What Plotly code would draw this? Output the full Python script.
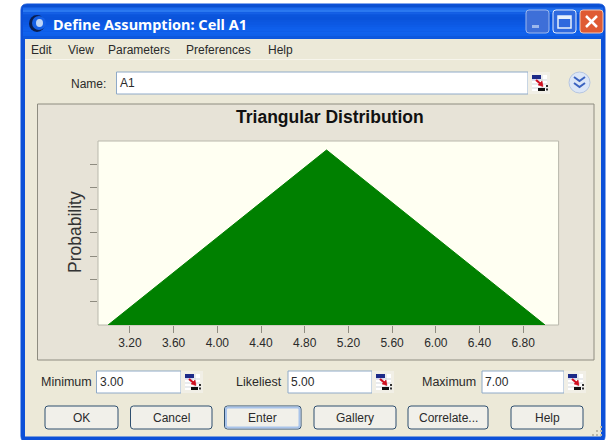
import plotly.graph_objects as go

W, H = 607, 440

# distribution
x_values = [3.0, 5.0, 7.0]
prob_values = [0.0, 0.5, 0.0]
x_ticks = [3.2, 3.6, 4.0, 4.4, 4.8, 5.2, 5.6, 6.0, 6.4, 6.8]
x_tick_labels = ["3.20", "3.60", "4.00", "4.40", "4.80", "5.20", "5.60", "6.00", "6.40", "6.80"]
prob_ticks = [0.066, 0.131, 0.197, 0.263, 0.329, 0.394, 0.46]

# dialog colours
WINDOW_BG = "#ECE9D8"
PANEL_BG = "#E7E3D7"
PLOT_BG = "#FFFFF2"
GREEN = "#008000"
TEXT = "#2A2A2A"
UI_FONT = "Liberation Sans"

# title bar bands, top to bottom
TITLE_BANDS = ["#0A4FD0", "#1C6AEC", "#2A78F0", "#1560E6", "#0B55DC", "#0A53DA", "#0B56DE",
               "#0C58E2", "#0D5BE6", "#0E5EEA", "#0F60EC", "#1062EE", "#0F60EA", "#0D58DE"]

shapes = []
texts = []


def px(x):
    return x / W


def py(y):
    return 1 - y / H


def rect(x0, y0, x1, y1, fill, line=None, width=1):
    shapes.append(dict(
        type="rect", xref="paper", yref="paper", layer="below",
        x0=px(x0), x1=px(x1), y0=py(y0), y1=py(y1),
        fillcolor=fill, line=dict(color=line or fill, width=width if line else 0),
    ))


def rounded(x0, y0, x1, y1, r, fill, line, width=1):
    path = (
        f"M {px(x0 + r)} {py(y0)} L {px(x1 - r)} {py(y0)} Q {px(x1)} {py(y0)} {px(x1)} {py(y0 + r)} "
        f"L {px(x1)} {py(y1 - r)} Q {px(x1)} {py(y1)} {px(x1 - r)} {py(y1)} "
        f"L {px(x0 + r)} {py(y1)} Q {px(x0)} {py(y1)} {px(x0)} {py(y1 - r)} "
        f"L {px(x0)} {py(y0 + r)} Q {px(x0)} {py(y0)} {px(x0 + r)} {py(y0)} Z"
    )
    shapes.append(dict(type="path", xref="paper", yref="paper", layer="below", path=path,
                       fillcolor=fill, line=dict(color=line, width=width)))


def stroke(points, color, width=1.5, fill=None):
    path = "M " + " L ".join(f"{px(a)} {py(b)}" for a, b in points)
    if fill:
        path += " Z"
    shapes.append(dict(type="path", xref="paper", yref="paper", layer="below", path=path,
                       fillcolor=fill or "rgba(0,0,0,0)", line=dict(color=color, width=width)))


def disc(x0, y0, x1, y1, fill, line=None, width=1):
    shapes.append(dict(type="circle", xref="paper", yref="paper", layer="below",
                       x0=px(x0), x1=px(x1), y0=py(y1), y1=py(y0),
                       fillcolor=fill, line=dict(color=line or fill, width=width if line else 0)))


def label(x, y, text, size=12, color=TEXT, anchor="left", bold=False, angle=0, font=UI_FONT):
    texts.append(dict(
        xref="paper", yref="paper", x=px(x), y=py(y), text=f"<b>{text}</b>" if bold else text,
        showarrow=False, xanchor=anchor, yanchor="middle", textangle=angle,
        font=dict(family=font, size=size, color=color),
    ))


def ref_icon(x, y):
    rect(x, y, x + 22, y + 22, "#F1EFE6")
    rect(x + 4, y + 3, x + 19, y + 19, "#FFFFFF")
    for gy in (y + 8, y + 12, y + 16):
        stroke([(x + 4, gy), (x + 19, gy)], "#BFC4CC", 0.7)
    stroke([(x + 14, y + 3), (x + 14, y + 19)], "#BFC4CC", 0.7)
    rect(x + 4, y + 3, x + 13, y + 7, "#1C2A88")
    rect(x + 4, y + 7, x + 12, y + 8.5, "#D8D8F0")
    stroke([(x + 8, y + 8), (x + 14, y + 13)], "#D01020", 2.2)
    stroke([(x + 10, y + 13), (x + 15, y + 14.5), (x + 14, y + 9)], "#D01020", 0.5, fill="#D01020")
    rect(x + 10, y + 16, x + 17, y + 19, "#111111")
    rect(x + 18, y + 13, x + 20, y + 15, "#333333")
    rect(x + 18, y + 16.5, x + 20, y + 18.5, "#333333")


def field(x0, y0, x1, y1, text):
    rect(x0, y0, x1, y1, "#FFFFFF", "#8FAAC8", 1)
    label(x0 + 1, (y0 + y1) / 2, text, size=12)
    ref_icon(x1, y0)


def button(x0, x1, text, default=False):
    rounded(x0, 406, x1, 429, 3, "#F1F0EA", "#2F4F6F", 1)
    if default:
        rounded(x0 + 1.5, 407.5, x1 - 1.5, 427.5, 2, "rgba(0,0,0,0)", "#A9C4EA", 2)
    label((x0 + x1) / 2, 417.5, text, size=12, anchor="center")


# window
rounded(21, 4, 605, 442, 6, "#0C50D8", "#0C50D8")
for i, c in enumerate(TITLE_BANDS):
    top = 5 + i * 2.4
    rect(23, top, 603, top + 2.5, c)
rect(25, 39, 601, 436.5, WINDOW_BG)
rect(25, 59, 601, 60, "#F7F5EC")

# title bar
rounded(526, 10, 549, 33, 3, "#3E6FD8", "#9DB8EC")
rect(532, 25, 539, 28, "#9DB8EC")
rounded(553, 10, 576, 33, 3, "#2F69DE", "#E4ECFA")
rect(558, 16, 571, 28, "rgba(0,0,0,0)", "#E8F0FC", 1.5)
rect(558, 16, 571, 19, "#E8F0FC")
rounded(580, 10, 603, 33, 3, "#DF5A33", "#F2C7B4")
stroke([(586, 16), (597, 27)], "#FFFFFF", 2.5)
stroke([(597, 16), (586, 27)], "#FFFFFF", 2.5)
disc(29, 15, 45, 32, "#0A1E50")
disc(32, 16, 46, 30, "#1560E6")
disc(36, 19, 43, 27, "#BFD6F8")
label(51, 24, "Define Assumption: Cell A1", size=14.5, color="#FFFFFF", bold=True, font="Noto Sans")

# menu
for x, name in zip([29, 66, 106, 184, 266], ["Edit", "View", "Parameters", "Preferences", "Help"]):
    label(x, 49.5, name, size=12)

# name row
label(69, 84, "Name:", size=12)
field(116.5, 72, 528, 94, "A1")
disc(569, 72, 590, 93, "#DCE6F6", "#B5C6E2")
stroke([(574, 77), (579.5, 81), (585, 77)], "#3A62C0", 2)
stroke([(574, 83), (579.5, 87), (585, 83)], "#3A62C0", 2)

# chart panel
rect(37.5, 104, 594, 360, PANEL_BG, "#8E8C80", 1)
rect(98, 141, 558.6, 325, PLOT_BG, "#B9B8AC", 1)

# lower fields
label(38.5, 382, "Minimum", size=12.5)
field(96.5, 371, 181, 393, "3.00")
label(234, 382, "Likeliest", size=12.5)
field(288, 371, 372, 393, "5.00")
label(420, 382, "Maximum", size=12.5)
field(482, 371, 564, 393, "7.00")

button(45, 118, "OK")
button(130.5, 212, "Cancel")
button(224.5, 301, "Enter", default=True)
button(314, 396, "Gallery")
button(408, 488, "Correlate...")
button(511, 583, "Help")

# resize grip
for gx, gy in [(600, 426), (596, 430), (600, 430), (592, 434), (596, 434), (600, 434)]:
    rect(gx, gy, gx + 2, gy + 2, "#BDBAA8")

fig = go.Figure(go.Scatter(
    x=x_values, y=prob_values, mode="lines", fill="tozeroy",
    fillcolor=GREEN, line=dict(color=GREEN, width=1), hoverinfo="skip",
))
fig.update_layout(
    width=W, height=H, autosize=False,
    margin=dict(l=0, r=0, t=0, b=0),
    paper_bgcolor="#FFFFFF", plot_bgcolor=PLOT_BG,
    showlegend=False, shapes=shapes, annotations=texts,
    font=dict(family=UI_FONT, color=TEXT, size=12),
    xaxis=dict(
        domain=[px(98), px(558.6)], range=[2.908, 7.124],
        tickmode="array", tickvals=x_ticks, ticktext=x_tick_labels,
        ticks="outside", ticklen=7, tickcolor="#8E8C80", tickwidth=1,
        tickfont=dict(size=12, color=TEXT), showgrid=False, zeroline=False, showline=False,
    ),
    yaxis=dict(
        domain=[py(325), py(141)], range=[0, 0.5257],
        tickmode="array", tickvals=prob_ticks, showticklabels=False,
        ticks="outside", ticklen=7, tickcolor="#8E8C80", tickwidth=1,
        showgrid=False, zeroline=False, showline=False,
    ),
)
fig.add_annotation(xref="paper", yref="paper", x=px(330), y=py(117), showarrow=False,
                   xanchor="center", yanchor="middle",
                   text="<b>Triangular Distribution</b>", font=dict(size=17.5, color="#111111"))
fig.add_annotation(xref="paper", yref="paper", x=px(75), y=py(232), showarrow=False, textangle=-90,
                   xanchor="center", yanchor="middle",
                   text="Probability", font=dict(size=17.5, color="#333333"))

fig.write_html("out.html", config=dict(displayModeBar=False),
               post_script="document.body.style.margin='0';document.body.style.overflow='hidden';")
